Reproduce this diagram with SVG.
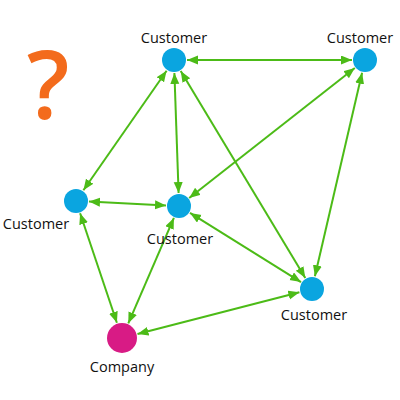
<svg xmlns="http://www.w3.org/2000/svg" width="400" height="400" viewBox="0 0 400 400">
<style>
.lbl{font-family:"Open Sans","Liberation Sans",sans-serif;font-size:14.5px;fill:#111;text-anchor:middle}
.cust{fill:#0aa5e0}
.comp{fill:#d81b85}
.edge{stroke:#4cbb17;stroke-width:2;fill:none;marker-start:url(#ah);marker-end:url(#ah)}
</style>
<defs>
<marker id="ah" markerUnits="userSpaceOnUse" markerWidth="12" markerHeight="10" refX="11" refY="4.5" orient="auto-start-reverse">
<path d="M0,0 L11,4.5 L0,9 z" fill="#4cbb17"/>
</marker>
</defs>
<rect width="400" height="400" fill="#fff"/>
<text x="48" y="119" font-family="Open Sans, Liberation Sans, sans-serif" font-weight="600" font-size="94" fill="#f36b1c" text-anchor="middle">?</text>
<g id="connectors">
<line class="edge" x1="187" y1="60" x2="352" y2="60"/>
<line class="edge" x1="166.6" y1="70.7" x2="83.4" y2="190.3"/>
<line class="edge" x1="174.4" y1="73" x2="178.6" y2="193"/>
<line class="edge" x1="180.7" y1="71.1" x2="305.3" y2="277.9"/>
<line class="edge" x1="354.8" y1="68" x2="189.2" y2="198"/>
<line class="edge" x1="362.1" y1="72.7" x2="314.9" y2="276.3"/>
<line class="edge" x1="89" y1="201.6" x2="166" y2="205.4"/>
<line class="edge" x1="80.1" y1="213.3" x2="116.9" y2="322.8"/>
<line class="edge" x1="173.9" y1="217.9" x2="128.3" y2="323.3"/>
<line class="edge" x1="190" y1="212.9" x2="301" y2="282.1"/>
<line class="edge" x1="299.4" y1="292.3" x2="137.5" y2="334"/>
</g>
<g id="customer-top"><circle class="cust" cx="174" cy="60" r="12"/><text class="lbl" x="174" y="43">Customer</text></g>
<g id="customer-topright"><circle class="cust" cx="365" cy="60" r="12"/><text class="lbl" x="360" y="43">Customer</text></g>
<g id="customer-left"><circle class="cust" cx="76" cy="201" r="12"/><text class="lbl" x="36" y="229">Customer</text></g>
<g id="customer-center"><circle class="cust" cx="179" cy="206" r="12"/><text class="lbl" x="180" y="244">Customer</text></g>
<g id="customer-lowright"><circle class="cust" cx="312" cy="289" r="12"/><text class="lbl" x="314" y="320">Customer</text></g>
<g id="company"><circle class="comp" cx="122" cy="338" r="15"/><text class="lbl" x="122" y="372">Company</text></g>
</svg>
